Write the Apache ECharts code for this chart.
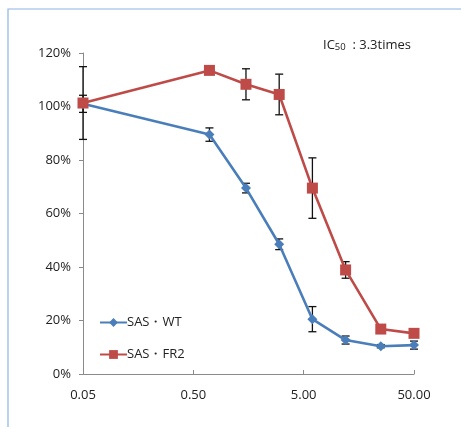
<!DOCTYPE html>
<html>
<head>
<meta charset="utf-8">
<script src="https://cdn.jsdelivr.net/npm/echarts@6/dist/echarts.min.js"></script>
<style>
html,body{margin:0;padding:0;background:#fff;}
#chart{width:461px;height:427px;}
</style>
</head>
<body>
<div id="chart"></div>
<script>
var doses = [0.05, 0.7, 1.5, 3, 6, 12, 25, 50];
var wtValues = [101, 89.5, 69.5, 48.5, 20.5, 12.7, 10.4, 10.8];
var wtErrors = [3.2, 2.5, 1.8, 2.0, 4.7, 1.5, 0.6, 1.5];
var fr2Values = [101.3, 113.5, 108.3, 104.5, 69.5, 38.9, 16.8, 15.2];
var fr2Errors = [13.6, 1.0, 5.8, 7.6, 11.3, 3.1, 0.5, 1.5];
var xTickLabels = ['0.05', '0.50', '5.00', '50.00'];
var wtName = 'SAS・WT';
var fr2Name = 'SAS・FR2';

var baseDose = 0.05;
function toX(d) { return Math.log10(d / baseDose); }

function pts(vals) { return doses.map(function (d, i) { return [toX(d), vals[i]]; }); }
function errPts(vals, errs) { return doses.map(function (d, i) { return [toX(d), vals[i] - errs[i], vals[i] + errs[i]]; }); }

function errRender(params, api) {
  var x = api.value(0);
  var lo = api.coord([x, api.value(1)]);
  var hi = api.coord([x, api.value(2)]);
  var cap = 4;
  var style = { stroke: '#111', lineWidth: 1.3 };
  return {
    type: 'group',
    children: [
      { type: 'line', shape: { x1: lo[0], y1: lo[1], x2: hi[0], y2: hi[1] }, style: style },
      { type: 'line', shape: { x1: lo[0] - cap, y1: lo[1], x2: lo[0] + cap, y2: lo[1] }, style: style },
      { type: 'line', shape: { x1: hi[0] - cap, y1: hi[1], x2: hi[0] + cap, y2: hi[1] }, style: style }
    ]
  };
}

var BLUE = '#4A7EBB';
var RED = '#BE4B48';
var FONT = '"Open Sans", "DejaVu Sans", sans-serif';

var chart = echarts.init(document.getElementById('chart'), null, { renderer: 'canvas' });
chart.setOption({
  animation: false,
  backgroundColor: '#fff',
  graphic: [
    { type: 'rect', shape: { x: 8, y: 9, width: 470, height: 440 }, style: { fill: 'none', stroke: '#8EB4E3', lineWidth: 1.2 }, z: 0 },
    { type: 'text', left: 323, top: 39, style: {
        text: '{a|IC}{b|50}{a|  : 3.3times}',
        rich: {
          a: { fontSize: 13, fontFamily: FONT, fill: '#222' },
          b: { fontSize: 9.5, fontFamily: FONT, fill: '#222', padding: [3, 0, 0, 0] }
        }
      } }
  ],
  grid: { left: 83, right: 47, top: 53, bottom: 53 },
  legend: {
    orient: 'vertical', left: 94, top: 311, itemGap: 19, itemWidth: 27, itemHeight: 11,
    textStyle: { fontSize: 13, fontFamily: FONT, color: '#222', padding: [0, 0, 0, -5] },
    data: [wtName, fr2Name]
  },
  xAxis: {
    type: 'value', min: 0, max: 3, interval: 1,
    axisLine: { lineStyle: { color: '#8a8a8a', width: 1 } },
    axisTick: { inside: true, length: 4, lineStyle: { color: '#8a8a8a' } },
    splitLine: { show: false },
    axisLabel: {
      margin: 15, fontSize: 13, fontFamily: FONT, color: '#222',
      formatter: function (v) { return xTickLabels[Math.round(v)]; }
    }
  },
  yAxis: {
    type: 'value', min: 0, max: 120, interval: 20,
    axisLine: { show: true, lineStyle: { color: '#8a8a8a', width: 1 } },
    axisTick: { show: true, length: 4, lineStyle: { color: '#8a8a8a' } },
    splitLine: { show: false },
    axisLabel: { margin: 12, fontSize: 13, fontFamily: FONT, color: '#222', formatter: '{value}%' }
  },
  series: [
    { type: 'custom', name: 'wtErr', data: errPts(wtValues, wtErrors), renderItem: errRender, z: 2, silent: true },
    { type: 'custom', name: 'fr2Err', data: errPts(fr2Values, fr2Errors), renderItem: errRender, z: 2, silent: true },
    { name: wtName, type: 'line', data: pts(wtValues), symbol: 'diamond', symbolSize: 10,
      itemStyle: { color: BLUE }, lineStyle: { color: BLUE, width: 2.6 }, z: 3 },
    { name: fr2Name, type: 'line', data: pts(fr2Values), symbol: 'rect', symbolSize: 11,
      itemStyle: { color: RED }, lineStyle: { color: RED, width: 2.6 }, z: 3 }
  ]
});
</script>
</body>
</html>
